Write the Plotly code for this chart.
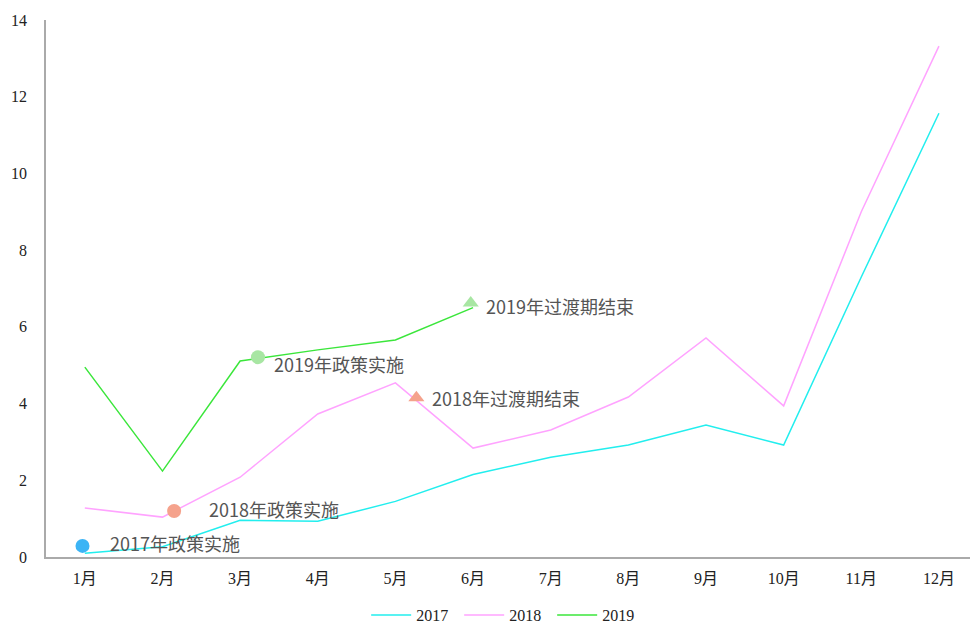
import plotly.graph_objects as go

months = ["1月", "2月", "3月", "4月", "5月", "6月", "7月", "8月", "9月", "10月", "11月", "12月"]
v2017 = [0.10, 0.27, 0.96, 0.93, 1.45, 2.15, 2.60, 2.92, 3.44, 2.92, 7.30, 11.57]
v2018 = [1.28, 1.04, 2.08, 3.73, 4.54, 2.84, 3.31, 4.17, 5.71, 3.94, 9.00, 13.32]
v2019 = [4.95, 2.24, 5.11, 5.40, 5.66, 6.50]

# event markers: x position in month index units, y value
event_x = [-0.03, 1.15, 2.23, 4.27, 4.97]
event_y = [0.29, 1.20, 5.21, 4.15, 6.62]
event_labels = ["2017年政策实施", "2018年政策实施", "2019年政策实施", "2018年过渡期结束", "2019年过渡期结束"]
event_colors = ["#3cb4f5", "#f5a28c", "#a8e6a3", "#f5a28c", "#a8e6a3"]
event_symbols = ["circle", "circle", "circle", "triangle-up", "triangle-up"]
label_dx = [26, 33, 14, 14, 13]
label_dy = [3, 2, -7, 0, -3]

xs = list(range(len(months)))

fig = go.Figure()
fig.add_trace(go.Scatter(x=xs, y=v2017, mode="lines", name="2017",
                         line=dict(color="#22eeee", width=1.5)))
fig.add_trace(go.Scatter(x=xs, y=v2018, mode="lines", name="2018",
                         line=dict(color="#ffa3ff", width=1.5)))
fig.add_trace(go.Scatter(x=xs[:len(v2019)], y=v2019, mode="lines", name="2019",
                         line=dict(color="#3be63b", width=1.5)))
fig.add_trace(go.Scatter(x=event_x, y=event_y, mode="markers", showlegend=False,
                         marker=dict(color=event_colors, symbol=event_symbols, size=14,
                                     line=dict(width=0))))

for x, y, t, dx, dy in zip(event_x, event_y, event_labels, label_dx, label_dy):
    fig.add_annotation(x=x, y=y, text=t, showarrow=False, xanchor="left", yanchor="middle",
                       xshift=dx, yshift=dy,
                       font=dict(family="Noto Sans CJK SC", size=18, color="#555555"))

tick_font = dict(family="Liberation Serif, Noto Sans CJK SC", size=16, color="#222222")

fig.update_layout(
    width=970, height=624,
    margin=dict(l=46, r=0, t=20, b=67, autoexpand=False),
    paper_bgcolor="white", plot_bgcolor="white",
    showlegend=True,
    legend=dict(orientation="h", x=0.3465, xanchor="left", y=-0.108, yanchor="middle",
                font=dict(family="Liberation Serif", size=16, color="#222222"),
                itemwidth=40, tracegroupgap=0, entrywidth=38, entrywidthmode="pixels"),
    xaxis=dict(range=[-0.5, 11.4], tickmode="array", tickvals=xs, ticktext=months,
               showgrid=False, zeroline=False, showline=True, linecolor="#aaaaaa",
               linewidth=1.5, ticks="", tickfont=tick_font, ticklabelstandoff=6,
               automargin=False),
    yaxis=dict(range=[0, 14], tickvals=[0, 2, 4, 6, 8, 10, 12, 14], showgrid=False,
               zeroline=False, showline=True, linecolor="#aaaaaa", linewidth=1.5,
               ticks="", tickfont=tick_font, ticklabelstandoff=14, automargin=False),
)

fig.write_html("out.html", config={"displayModeBar": False},
               post_script="document.body.style.margin='0';document.body.style.overflow='hidden';")
